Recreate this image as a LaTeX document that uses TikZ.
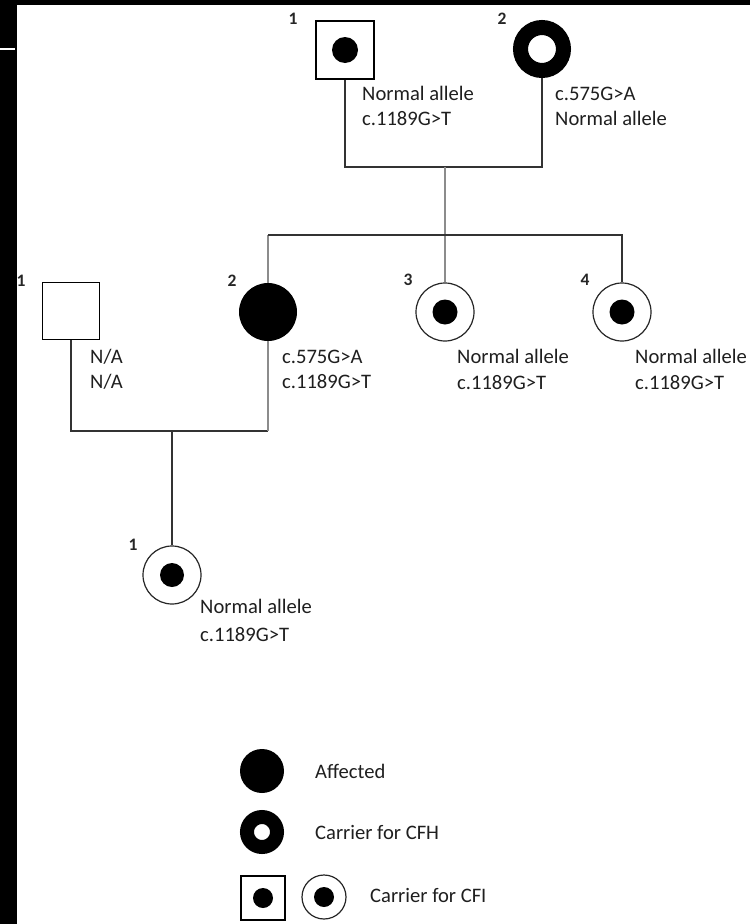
\documentclass[tikz,border=0pt]{standalone}
\usepackage{fontspec}
\setmainfont{Carlito}
\begin{document}
\begin{tikzpicture}[x=1pt,y=-1pt,
  lin/.style={draw=black!80, line width=1.8pt},
  thinlin/.style={draw=black!45, line width=1.3pt},
  sqbox/.style={shape=rectangle, draw=black, line width=1.8pt, fill=white, minimum size=#1, inner sep=0pt},
  sqbox/.default=58pt,
  affbox/.style={shape=circle, fill=black, minimum size=#1, inner sep=0pt},
  affbox/.default=58pt,
  ringbox/.style={shape=circle, draw=black, fill=white, inner sep=0pt},
  cfibox/.style={shape=circle, draw=black!85, line width=1.2pt, fill=white, minimum size=#1, inner sep=0pt},
  cfibox/.default=58pt,
  dotbox/.style={shape=circle, fill=black, minimum size=#1, inner sep=0pt},
  dotbox/.default=25pt,
  num/.style={anchor=base, inner sep=0pt, font=\bfseries\fontsize{17.5}{17.5}\selectfont, text=black!85},
  txt/.style={anchor=base west, inner sep=0pt, font=\fontsize{20.6}{24}\selectfont, text=black!88}
]
\useasboundingbox (0,0) rectangle (750,924);
\fill[white] (0,0) rectangle (750,924);
% frame strips
\fill[black] (0,0) rectangle (16.5,924);
\fill[black] (0,0) rectangle (750,4.5);
\draw[white, line width=1.3pt] (0,49) -- (15,49);

% Generation I
\node[sqbox] (I1) at (345,50) {};
\node[dotbox=26pt] (I1d) at (I1.center) {};
\node[ringbox, line width=15pt, minimum size=43pt] (I2) at (542,49) {};
\node[num] (nI1) at (293,24) {1};
\node[num] (nI2) at (502,24) {2};
\node[txt] (tI1a) at (362,100) {Normal allele};
\node[txt] (tI1b) at (362,125) {c.1189G>T};
\node[txt] (tI2a) at (555,100) {c.575G>A};
\node[txt] (tI2b) at (555,125) {Normal allele};

% Generation II
\node[sqbox=57pt] (II1) at (71,311) {};
\node[affbox] (II2) at (268,312) {};
\node[cfibox] (II3) at (445,312) {};
\node[dotbox] (II3d) at (II3.center) {};
\node[cfibox] (II4) at (622,312) {};
\node[dotbox] (II4d) at (II4.center) {};
\node[num] (nII1) at (21,286) {1};
\node[num] (nII2) at (232,286) {2};
\node[num] (nII3) at (408,285) {3};
\node[num] (nII4) at (585,285) {4};
\node[txt] (tII1a) at (90,363) {N/A};
\node[txt] (tII1b) at (90,388) {N/A};
\node[txt] (tII2a) at (282,363) {c.575G>A};
\node[txt] (tII2b) at (282,388) {c.1189G>T};
\node[txt] (tII3a) at (457,363) {Normal allele};
\node[txt] (tII3b) at (457,389) {c.1189G>T};
\node[txt] (tII4a) at (635,363) {Normal allele};
\node[txt] (tII4b) at (635,389) {c.1189G>T};

% Generation III
\node[cfibox] (III1) at (172,575) {};
\node[dotbox=24pt] (III1d) at (III1.center) {};
\node[num] (nIII1) at (133,550) {1};
\node[txt] (tIII1a) at (200,613) {Normal allele};
\node[txt] (tIII1b) at (200,641) {c.1189G>T};

% connectors
\coordinate (mI) at (445,167);
\draw[lin] (I1.south) -- (I1.south |- mI) -- (I2.south |- mI) -- (I2.south);
\draw[thinlin] (mI) -- (II3.north);
\coordinate (sL) at (268,235);
\coordinate (sR) at (622,235);
\draw[thinlin] (II2.north) -- (sL);
\draw[lin] (sL) -- (sR) -- (II4.north);
\coordinate (mII) at (172,431);
\draw[lin] (II1.south) -- (II1.south |- mII) -- (II2.south |- mII);
\draw[thinlin] (II2.south |- mII) -- (II2.south);
\draw[lin] (mII) -- (III1.north);

% legend
\node[affbox=44pt] (Laff) at (262,771) {};
\node[txt] (tLaff) at (315,778) {Affected};
\node[ringbox, line width=14pt, minimum size=30pt] (Lcfh) at (262,832) {};
\node[txt] (tLcfh) at (315,839) {Carrier for CFH};
\node[sqbox=44pt] (Lsq) at (263,898) {};
\node[dotbox=20pt] (Lsqd) at (Lsq.center) {};
\node[cfibox=44pt] (Lci) at (324,897) {};
\node[dotbox=20pt] (Lcid) at (Lci.center) {};
\node[txt] (tLcfi) at (370,902) {Carrier for CFI};
\end{tikzpicture}
\end{document}
